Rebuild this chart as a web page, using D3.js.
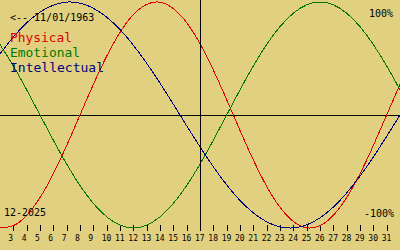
<!DOCTYPE html>
<html>
<head>
<meta charset="utf-8">
<script src="https://cdn.jsdelivr.net/npm/d3@7"></script>
<style>
  body { margin: 0; background: #e0d080; }
  svg { display: block; }
  text { font-family: "DejaVu Sans Mono", monospace; }
</style>
</head>
<body>
<svg id="bio"></svg>
<script>
// days of the month shown along the bottom
var days = [2,3,4,5,6,7,8,9,10,11,12,13,14,15,16,17,18,19,20,21,22,23,24,25,26,27,28,29,30,31,32];
var tickDays = [3,4,5,6,7,8,9,10,11,12,13,14,15,16,17,18,19,20,21,22,23,24,25,26,27,28,29,30,31];

// cycle values per day, -1 .. 1
var physical = [-0.998,-0.979,-0.888,-0.731,-0.520,-0.270,0,0.270,0.520,0.731,0.888,0.979,0.998,0.942,0.817,0.631,0.398,0.136,-0.136,-0.398,-0.631,-0.817,-0.942,-0.998,-0.979,-0.888,-0.731,-0.520,-0.270,0,0.270];
var emotional = [0.624,0.434,0.223,0,-0.223,-0.434,-0.624,-0.782,-0.901,-0.975,-1,-0.975,-0.901,-0.782,-0.624,-0.434,-0.223,0,0.223,0.434,0.624,0.782,0.901,0.975,1,0.975,0.901,0.782,0.624,0.434,0.223];
var intellectual = [0.541,0.690,0.815,0.910,0.972,0.999,0.990,0.945,0.866,0.756,0.618,0.458,0.282,0.095,-0.095,-0.282,-0.458,-0.618,-0.756,-0.866,-0.945,-0.990,-0.999,-0.972,-0.910,-0.815,-0.690,-0.541,-0.372,-0.189,0];

var series = [
    {name:"Physical", values:physical, color:"#e00000", y:42, len:62},
    {name:"Emotional", values:emotional, color:"#007800", y:57, len:70},
    {name:"Intellectual", values:intellectual, color:"#000080", y:72, len:94}
];

var width = 400, height = 250;

var svg = d3.select("#bio")
    .attr("width", width)
    .attr("height", height);

svg.append("rect")
    .attr("width", width)
    .attr("height", height)
    .attr("fill", "#e0d080");

var xScale = d3.scaleLinear()
    .domain([2,32])
    .range([0,width]);

var yScale = d3.scaleLinear()
    .domain([-1,1])
    .range([228,2]);

// zero line
svg.append("line")
    .attr("x1", 0).attr("x2", width)
    .attr("y1", yScale(0) + 0.5).attr("y2", yScale(0) + 0.5)
    .attr("stroke", "black")
    .attr("shape-rendering", "crispEdges");

// day ticks + labels
var ticks = svg.append("g");
ticks.selectAll("line")
    .data(tickDays)
    .enter()
    .append("line")
    .attr("x1", function(d){ return Math.round(xScale(d)) + 0.5; })
    .attr("x2", function(d){ return Math.round(xScale(d)) + 0.5; })
    .attr("y1", 225)
    .attr("y2", 231)
    .attr("stroke", "black")
    .attr("shape-rendering", "crispEdges");
ticks.selectAll("text")
    .data(tickDays)
    .enter()
    .append("text")
    .attr("x", function(d){ return xScale(d) - 5; })
    .attr("y", 241)
    .attr("font-size", 8)
    .attr("fill", "black")
    .text(function(d){ return d; });

// curves
var line = d3.line()
    .x(function(v,i){ return xScale(days[i]); })
    .y(function(v){ return yScale(v); })
    .curve(d3.curveNatural);

svg.selectAll("path.cycle")
    .data(series)
    .enter()
    .append("path")
    .attr("class", "cycle")
    .attr("d", function(s){ return line(s.values); })
    .attr("fill", "none")
    .attr("stroke", function(s){ return s.color; })
    .attr("stroke-width", 1)
    .attr("shape-rendering", "crispEdges");

// today marker
svg.append("line")
    .attr("x1", Math.round(xScale(17)) + 0.5).attr("x2", Math.round(xScale(17)) + 0.5)
    .attr("y1", 0).attr("y2", 231)
    .attr("stroke", "black")
    .attr("shape-rendering", "crispEdges");

// labels
var labels = svg.append("g");
labels.append("text")
    .text("<-- 11/01/1963")
    .attr("x", 10).attr("y", 21)
    .attr("font-size", 10);
labels.append("text")
    .text("100%")
    .attr("x", 369).attr("y", 17)
    .attr("font-size", 10);
labels.append("text")
    .text("-100%")
    .attr("x", 364).attr("y", 217)
    .attr("font-size", 10);
labels.append("text")
    .text("12-2025")
    .attr("x", 4).attr("y", 216)
    .attr("font-size", 10);

labels.selectAll("text.legend")
    .data(series)
    .enter()
    .append("text")
    .attr("class", "legend")
    .attr("x", 10)
    .attr("y", function(s){ return s.y; })
    .attr("font-size", 13)
    .attr("textLength", function(s){ return s.len; })
    .attr("lengthAdjust", "spacingAndGlyphs")
    .attr("fill", function(s){ return s.color; })
    .text(function(s){ return s.name; });
</script>
</body>
</html>
